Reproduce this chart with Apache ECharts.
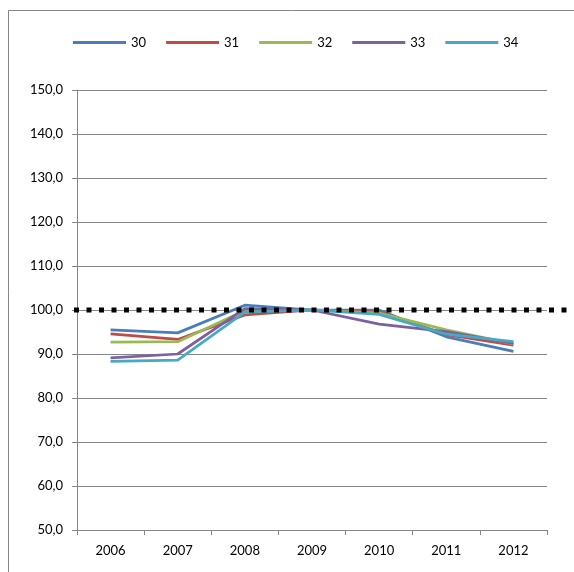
<!DOCTYPE html>
<html>
<head>
<meta charset="utf-8">
<script src="https://cdn.jsdelivr.net/npm/echarts@6/dist/echarts.min.js"></script>
<style>
html,body{margin:0;padding:0;background:#fff;}
#chart{width:574px;height:572px;}
</style>
</head>
<body>
<div id="chart"></div>
<script>
const years = ['2006','2007','2008','2009','2010','2011','2012'];
const seriesNames = ['30','31','32','33','34'];
const s30 = [95.5, 94.8, 101.1, 100.0, 100.0, 93.9, 90.6];
const s31 = [94.6, 93.3, 98.9, 100.0, 99.6, 94.4, 92.0];
const s32 = [92.7, 92.8, 99.9, 100.0, 99.3, 95.5, 92.3];
const s33 = [89.1, 90.0, 100.3, 100.0, 96.8, 95.1, 92.4];
const s34 = [88.3, 88.6, 99.5, 100.0, 99.0, 94.5, 92.8];
const refValue = [100, 100];
const yMin = 50, yMax = 150, yStep = 10;

const colors = ['#4A7EBB', '#BE4B48', '#98B954', '#7D60A0', '#46AAC5'];
const allData = [s30, s31, s32, s33, s34];
const font = 'Lato, "Open Sans", sans-serif';

const chart = echarts.init(document.getElementById('chart'), null, {renderer: 'canvas'});
const lineSeries = seriesNames.map((n, i) => ({
  name: n,
  type: 'line',
  xAxisIndex: 0,
  yAxisIndex: 0,
  data: allData[i],
  symbol: 'none',
  lineStyle: {color: colors[i], width: 2.75},
  itemStyle: {color: colors[i]},
  z: 2
}));

chart.setOption({
  animation: false,
  backgroundColor: '#fff',
  textStyle: {fontFamily: font},
  graphic: [{
    type: 'rect',
    shape: {x: 8.5, y: 10.5, width: 700, height: 700},
    style: {fill: 'none', stroke: '#868686', lineWidth: 1},
    silent: true,
    z: 0
  }],
  legend: {
    data: seriesNames,
    left: 73,
    top: 36,
    icon: 'rect',
    itemWidth: 53,
    itemHeight: 3,
    itemGap: 20,
    textStyle: {fontFamily: font, fontSize: 13, color: '#000'},
    padding: 0
  },
  grid: [
    {left: 77, right: 27, top: 90, bottom: 42},
    {left: 74, right: -10, top: 90, bottom: 42}
  ],
  xAxis: [{
    type: 'category',
    gridIndex: 0,
    data: years,
    boundaryGap: true,
    axisLine: {lineStyle: {color: '#868686', width: 1}},
    axisTick: {show: true, length: 5, lineStyle: {color: '#868686'}},
    axisLabel: {color: '#000', fontSize: 13, fontFamily: font, margin: 14},
    splitLine: {show: false}
  }, {
    type: 'value',
    gridIndex: 1,
    min: 0, max: 1,
    show: false
  }],
  yAxis: [{
    type: 'value',
    gridIndex: 0,
    min: yMin, max: yMax, interval: yStep,
    axisLine: {show: true, lineStyle: {color: '#868686', width: 1}},
    axisTick: {show: true, length: 5, lineStyle: {color: '#868686'}},
    axisLabel: {
      color: '#000', fontSize: 13, fontFamily: font, margin: 14,
      formatter: v => v.toFixed(1).replace('.', ',')
    },
    splitLine: {show: true, lineStyle: {color: '#868686', width: 1}}
  }, {
    type: 'value',
    gridIndex: 1,
    min: yMin, max: yMax,
    show: false
  }],
  series: lineSeries.concat([{
    name: 'ref',
    type: 'line',
    xAxisIndex: 1,
    yAxisIndex: 1,
    data: refValue.map((v, i) => [i, v]),
    symbol: 'none',
    clip: false,
    lineStyle: {color: '#000', width: 5, type: [5, 7.5], cap: 'butt'},
    z: 5,
    silent: true
  }])
});
</script>
</body>
</html>
